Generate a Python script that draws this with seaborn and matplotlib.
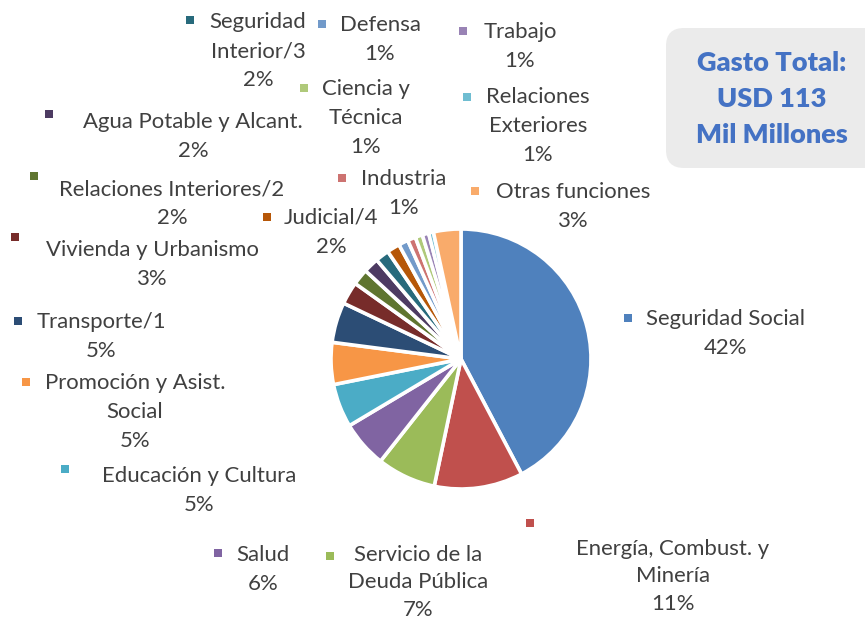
import matplotlib
matplotlib.use("Agg")
import matplotlib.pyplot as plt
import seaborn as sns
from matplotlib.patches import FancyBboxPatch

# ---------------- data ----------------
categories = [
    "Seguridad Social", "Energía, Combust. y\nMinería", "Servicio de la\nDeuda Pública",
    "Salud", "Educación y Cultura", "Promoción y Asist.\nSocial", "Transporte/1",
    "Vivienda y Urbanismo", "Relaciones Interiores/2", "Agua Potable y Alcant.",
    "Seguridad\nInterior/3", "Judicial/4", "Defensa", "Industria", "Ciencia y\nTécnica",
    "Trabajo", "Relaciones\nExteriores", "Otras funciones",
]
values = [42.2, 11.0, 7.3, 5.8, 5.4, 5.2, 5.0, 2.8, 2.0, 1.9, 1.7, 1.6, 1.2, 1.0, 0.9, 0.8, 0.6, 3.4]
hex_colors = [
    "#4F81BD", "#C0504D", "#9BBB59", "#8064A2", "#4BACC6", "#F79646", "#2C4D75",
    "#772C2A", "#5F7530", "#4D3B62", "#276A7C", "#B65708", "#729ACA", "#CD7371",
    "#AFC97A", "#9983B5", "#6FBDD1", "#F9AB6B",
]
title_lines = ["Gasto Total:", "USD 113", "Mil Millones"]

# ---------------- layout (pixel coords) ----------------
marker_pos = [
    (628, 318), (530, 523), (330, 556), (218, 553), (65, 469), (26, 382), (18, 321),
    (15, 237), (34, 176), (49, 114), (190, 20), (267, 217), (322, 24), (342, 178),
    (304, 88), (463, 31), (467, 97), (475, 191),
]
text_pos = [
    (725, 319), (673, 549), (418, 555), (263, 555), (199, 476), (135, 383), (101, 322),
    (152, 250), (172, 189), (193, 122), (258, 22), (331, 218), (380, 25), (404, 179),
    (366, 89), (520, 32), (538, 97), (573, 192),
]
LINE = 29  # line spacing in px

sns.set_style("white")
plt.rcParams["font.family"] = ["Lato", "DejaVu Sans"]

W, H = 865, 622
fig = plt.figure(figsize=(W / 100, H / 100), dpi=100)
ax = fig.add_axes([0, 0, 1, 1])

colors = sns.color_palette(hex_colors)
ax.pie(values, colors=colors, center=(461, 359), radius=130, startangle=-90,
       counterclock=True, wedgeprops=dict(edgecolor="white", linewidth=2.6))

ax.set_xlim(0, W)
ax.set_ylim(H, 0)
ax.set_aspect("equal", adjustable="box")
ax.axis("off")

total = sum(values)
txt_color = "#404040"
fs = 15.9
for cat, v, c, (mx, my), (tx, ty) in zip(categories, values, colors, marker_pos, text_pos):
    ax.scatter([mx], [my], marker="s", s=26, color=c, zorder=5, linewidths=0)
    lines = cat.split("\n") + [f"{round(v / total * 100):d}%"]
    n = len(lines)
    for i, ln in enumerate(lines):
        step = LINE if not (ty > 540 and n == 3) else 27.5
        ax.text(tx, ty + i * step, ln, ha="center", va="center", fontsize=fs, color=txt_color)

# info box
box = FancyBboxPatch((666 + 14, 28 + 14), 230 - 28, 140 - 28,
                     boxstyle="round,pad=14,rounding_size=18",
                     facecolor="#EBEBEB", edgecolor="none", zorder=1)
ax.add_patch(box)
for i, ln in enumerate(title_lines):
    ax.text(772, 63 + i * 36, ln, ha="center", va="center", fontsize=19.5,
            fontweight="heavy", color="#4472C4", zorder=2)

fig.savefig("out.png", dpi=100)
